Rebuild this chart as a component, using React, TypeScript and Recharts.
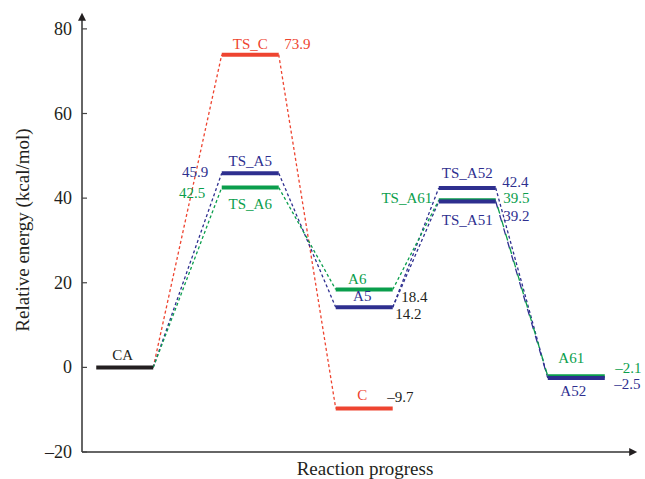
import { LineChart, Line, XAxis, YAxis } from "recharts";

// reaction coordinate of each stage (CA, TS, intermediates, TS2, products)
const stageX = [0.78, 3.07, 5.15, 7.03, 9.02];

const levelNames = ["CA", "TS_C", "TS_A5", "TS_A6", "C", "A5", "A6", "TS_A52", "TS_A61", "TS_A51", "A61", "A52"];
const levelStage = [0, 1, 1, 1, 2, 2, 2, 3, 3, 3, 4, 4];
const levelEnergy = [0, 73.9, 45.9, 42.5, -9.7, 14.2, 18.4, 42.4, 39.5, 39.2, -2.1, -2.5];

const yTicks = [-20, 0, 20, 40, 60, 80];

// dashed connections between levels
const redPath = [["CA", "TS_C"], ["TS_C", "C"]];
const bluePath = [["CA", "TS_A5"], ["TS_A5", "A5"], ["A5", "TS_A51"], ["A5", "TS_A52"], ["TS_A52", "A52"]];
const bluePathLong = [["TS_A51", "A52"]];
const greenPath = [["CA", "TS_A6"], ["TS_A6", "A6"], ["A6", "TS_A61"]];
const greenPathLong = [["TS_A61", "A61"]];

const RED = "#ee4430";
const BLUE = "#2e2f8f";
const GREEN = "#0a9e4c";
const BLACK = "#231f20";
const FONT = "'Liberation Serif', 'DejaVu Serif', serif";
const HALF = 0.52;

// colour + label placement (pixel offsets from level centre)
const levelStyle: Record<string, any> = {
  CA: { color: BLACK, name: [-2, -7, "middle"] },
  TS_C: { color: RED, name: [0, -6, "middle"], value: [34, -6, "start"], valueColor: RED },
  TS_A5: { color: BLUE, name: [0, -7, "middle"], value: [-42, 4, "end"], valueColor: BLUE },
  TS_A6: { color: GREEN, name: [0, 21, "middle"], value: [-45, 10, "end"], valueColor: GREEN },
  C: { color: RED, name: [-2, -8, "middle"], value: [23, -6, "start"], valueColor: BLACK },
  A5: { color: BLUE, name: [-2, -6, "middle"], value: [31, 12, "start"], valueColor: BLACK },
  A6: { color: GREEN, name: [-7, -6, "middle"], value: [37, 12, "start"], valueColor: BLACK },
  TS_A52: { color: BLUE, name: [0, -10, "middle"], value: [35, -1, "start"], valueColor: BLUE },
  TS_A61: { color: GREEN, name: [-35, 3, "end"], value: [36, 3, "start"], valueColor: GREEN },
  TS_A51: { color: BLUE, name: [0, 23, "middle"], value: [36, 19, "start"], valueColor: BLUE },
  A61: { color: GREEN, name: [-5, -13, "middle"], value: [39, -3, "start"], valueColor: GREEN },
  A52: { color: BLUE, name: [-3, 18, "middle"], value: [38, 11, "start"], valueColor: BLUE },
};

const fmt = (v: number) => (v < 0 ? `\u2013${Math.abs(v)}` : `${v}`);

const levelData = (i: number) => {
  const x = stageX[levelStage[i]];
  const y = levelEnergy[i];
  return [
    { x: x - HALF, y },
    { x, y },
    { x: x + HALF, y },
  ];
};

const linkData = (from: string, to: string) => {
  const a = levelNames.indexOf(from);
  const b = levelNames.indexOf(to);
  return [
    { x: stageX[levelStage[a]] + HALF, y: levelEnergy[a] },
    { x: stageX[levelStage[b]] - HALF, y: levelEnergy[b] },
  ];
};

const makeLabel = (i: number) => (props: any) => {
  if (props.index !== 1) return <g />;
  const name = levelNames[i];
  const st = levelStyle[name];
  const { x, y } = props;
  return (
    <g fontFamily={FONT} fontSize={15}>
      <text x={x + st.name[0]} y={y + st.name[1]} textAnchor={st.name[2]} fill={st.color}>
        {name}
      </text>
      {st.value && (
        <text x={x + st.value[0]} y={y + st.value[1]} textAnchor={st.value[2]} fill={st.valueColor}>
          {fmt(levelEnergy[i])}
        </text>
      )}
    </g>
  );
};

const YTick = ({ x, y, payload }: any) => (
  <g>
    <line x1={x} y1={y} x2={x + 5} y2={y} stroke="#444" strokeWidth={1.2} />
    <text x={x - 10} y={y + 6} textAnchor="end" fontFamily={FONT} fontSize={18} fill={BLACK}>
      {fmt(payload.value)}
    </text>
  </g>
);

const links = [
  ...redPath.map((p) => ({ p, color: RED, dash: "3 2.5" })),
  ...bluePath.map((p) => ({ p, color: BLUE, dash: "3 2.5" })),
  ...greenPath.map((p) => ({ p, color: GREEN, dash: "3 2.5" })),
  ...bluePathLong.map((p) => ({ p, color: BLUE, dash: "7 7" })),
  ...greenPathLong.map((p) => ({ p, color: GREEN, dash: "0 7 7 0" })),
];

export default function App() {
  return (
    <div style={{ width: 645, height: 479, background: "#fff" }}>
      <style>{`body{margin:0}`}</style>
      <LineChart width={645} height={479} margin={{ top: 20, right: 15, bottom: 0, left: 22 }}>
        <defs>
          <marker
            id="axisArrow"
            viewBox="0 0 10 10"
            refX="1"
            refY="5"
            markerWidth="11"
            markerHeight="8"
            markerUnits="userSpaceOnUse"
            orient="auto-start-reverse"
          >
            <path d="M0,0 L10,5 L0,10 z" fill={BLACK} />
          </marker>
        </defs>
        <XAxis
          dataKey="x"
          type="number"
          domain={[0, 10]}
          allowDataOverflow
          height={27}
          tick={false}
          tickLine={false}
          axisLine={{ stroke: "#333", strokeWidth: 1.5, markerEnd: "url(#axisArrow)" } as any}
          label={(props: any) => {
            const vb = props.viewBox;
            return (
              <text x={365} y={vb.y + 23} textAnchor="middle" fontFamily={FONT} fontSize={19} fill={BLACK}>
                Reaction progress
              </text>
            );
          }}
        />
        <YAxis
          type="number"
          domain={[-20, 82.1]}
          allowDataOverflow
          ticks={yTicks}
          width={60}
          tickSize={0}
          tickMargin={0}
          tickLine={false}
          tick={(props: any) => <YTick {...props} />}
          axisLine={{ stroke: "#333", strokeWidth: 1.5, markerStart: "url(#axisArrow)" } as any}
          label={() => (
            <text
              x={29}
              y={230}
              transform="rotate(-90, 29, 230)"
              textAnchor="middle"
              fontFamily={FONT}
              fontSize={19}
              fill={BLACK}
            >
              Relative energy (kcal/mol)
            </text>
          )}
        />
        {links.map((l, k) => (
          <Line
            key={`link-${k}`}
            data={linkData(l.p[0], l.p[1])}
            dataKey="y"
            type="linear"
            stroke={l.color}
            strokeWidth={1.3}
            strokeDasharray={l.dash}
            dot={false}
            activeDot={false}
            isAnimationActive={false}
          />
        ))}
        {levelNames.map((name, i) => (
          <Line
            key={`level-${name}`}
            data={levelData(i)}
            dataKey="y"
            type="linear"
            stroke={levelStyle[name].color}
            strokeWidth={4}
            dot={false}
            activeDot={false}
            label={makeLabel(i)}
            isAnimationActive={false}
          />
        ))}
      </LineChart>
    </div>
  );
}
